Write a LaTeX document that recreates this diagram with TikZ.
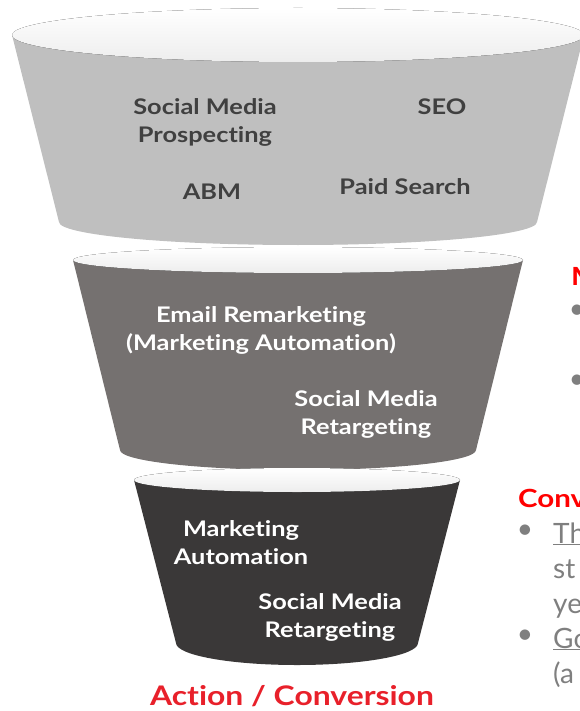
\documentclass[tikz,border=0pt]{standalone}
\usepackage{fontspec}
\setmainfont{Lato}[Ligatures=NoCommon]
\newfontfamily\funnelfont{Lato}[FakeStretch=1.18, Ligatures=NoCommon]
\usetikzlibrary{positioning}

\definecolor{rimgray}{HTML}{EDEDED}
\definecolor{topbody}{HTML}{BFBFBF}
\definecolor{midbody}{HTML}{757170}
\definecolor{lowbody}{HTML}{3A3838}
\definecolor{labelgray}{HTML}{404040}
\definecolor{notegray}{HTML}{7F7F7F}
\definecolor{actionred}{HTML}{E8202A}
\definecolor{headred}{HTML}{FF0000}

% funnel section: centre x, top y, top rx, top ry, bottom y, bottom rx, bottom ry, body colour
\newcommand{\drawfunnel}[8]{%
  \fill[#8] (#1-#3,#2) -- (#1-#6,#5) arc[start angle=180, end angle=0, x radius=#6, y radius=#7] -- (#1+#3,#2) -- cycle;
  \fill[rim] (#1,#2) ellipse[x radius=#3, y radius=#4];
}

\begin{document}
\begin{tikzpicture}[x=1pt, y=-1pt,
  rim/.style={top color=white, bottom color=rimgray},
  lbl/.style={font=\funnelfont\bfseries\fontsize{21.5}{28}\selectfont, align=center, inner sep=0pt},
  darklbl/.style={lbl, text=labelgray},
  lightlbl/.style={lbl, text=white},
  headlbl/.style={font=\funnelfont\bfseries\fontsize{25}{30}\selectfont, text=headred, inner sep=0pt, anchor=base west},
  note/.style={font=\fontsize{28}{35}\selectfont, text=notegray, inner sep=0pt, anchor=base west},
  dot/.style={font=\fontsize{28}{35}\selectfont, text=notegray, inner sep=0pt}]
  \clip (0,0) rectangle (580,711);

  % the three funnel sections
  \drawfunnel{298}{35}{286}{27}{222}{239}{23}{topbody}
  \drawfunnel{298}{260}{225}{13}{450}{178}{20}{midbody}
  \drawfunnel{297}{480}{163}{12}{643}{121}{22}{lowbody}

  % top section
  \node[darklbl] (prosp) at (205,122) {Social Media\\Prospecting};
  \node[darklbl] (seo) at (442,107) {SEO};
  \node[darklbl] (abm) at (212,192) {ABM};
  \node[darklbl] (paid) at (405,187) {Paid Search};

  % middle section
  \node[lightlbl] (email) at (261,330) {Email Remarketing\\(Marketing Automation)};
  \node[lightlbl] (retarg) at (366,414) {Social Media\\Retargeting};

  % bottom section
  \node[lightlbl] (autom) at (241,543) {Marketing\\Automation};
  \node[lightlbl] (retargb) at (330,617) {Social Media\\Retargeting};

  \node[font=\funnelfont\bfseries\fontsize{27}{30}\selectfont, text=actionred, inner sep=0pt, anchor=base] (action) at (292,705) {Action / Conversion};

  % notes on the right
  \node[headlbl] (nhead) at (571,285) {M};
  \node[dot] (nb1) at (577,312) {\textbullet};
  \node[dot] (nb2) at (577,382) {\textbullet};

  \node[headlbl] (chead) at (518,507) {Conv};
  \node[dot] (cb1) at (525,532) {\textbullet};
  \node[dot] (cb2) at (525,637) {\textbullet};
  \node[note] (c1) at (553,543) {\underline{Th}};
  \node[note] (c2) at (553,578) {st};
  \node[note] (c3) at (553,613) {ye};
  \node[note] (c4) at (553,648) {\underline{Go}};
  \node[note] (c5) at (553,683) {(a};
\end{tikzpicture}
\end{document}
